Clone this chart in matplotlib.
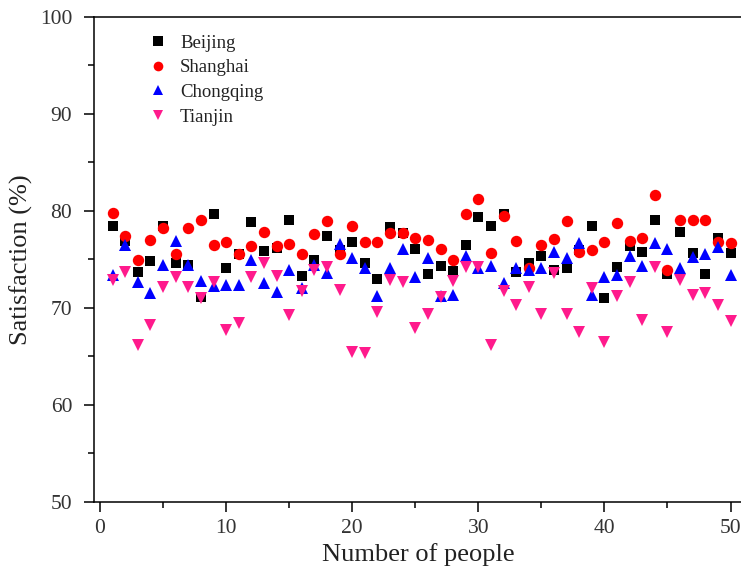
import matplotlib
matplotlib.use("Agg")
import matplotlib.pyplot as plt
import numpy as np
from matplotlib.ticker import MultipleLocator

# <----------------Datos--------------------------------------->
people = np.arange(1, 51)
beijing = [78.4, 76.9, 73.7, 74.8, 78.4, 74.6, 74.4, 71.1, 79.7, 74.1,
           75.5, 78.8, 75.9, 76.2, 79.1, 73.3, 74.9, 77.4, 76.0, 76.8,
           74.6, 73.0, 78.3, 77.7, 76.1, 73.5, 74.3, 73.8, 76.5, 79.4,
           78.4, 79.7, 73.7, 74.6, 75.3, 73.9, 74.1, 76.0, 78.4, 71.0,
           74.2, 76.4, 75.8, 79.1, 73.5, 77.8, 75.7, 73.5, 77.2, 75.7]
shanghai = [79.8, 77.4, 74.9, 77.0, 78.2, 75.6, 78.2, 79.1, 76.5, 76.8,
            75.6, 76.4, 77.8, 76.4, 76.6, 75.6, 77.6, 78.9, 75.6, 78.4,
            76.8, 76.8, 77.7, 77.7, 77.2, 77.0, 76.1, 74.9, 79.7, 81.2,
            75.7, 79.5, 76.9, 74.1, 76.5, 77.1, 79.0, 75.8, 76.0, 76.8,
            78.7, 76.9, 77.2, 81.6, 73.9, 79.1, 79.1, 79.1, 76.8, 76.7]
chongqing = [73.4, 76.5, 72.7, 71.5, 74.4, 76.9, 74.4, 72.8, 72.3, 72.4,
             72.4, 74.9, 72.6, 71.6, 73.9, 72.0, 74.4, 73.6, 76.6, 75.1,
             74.1, 71.2, 74.1, 76.1, 73.2, 75.1, 71.2, 71.3, 75.3, 74.1,
             74.3, 72.6, 74.1, 73.9, 74.1, 75.8, 75.1, 76.7, 71.3, 73.2,
             73.4, 75.3, 74.3, 76.7, 76.1, 74.1, 75.2, 75.6, 76.3, 73.4]
tianjin = [72.9, 73.7, 66.2, 68.2, 72.2, 73.2, 72.2, 71.0, 72.7, 67.7,
           68.4, 73.2, 74.6, 73.3, 69.3, 71.7, 73.9, 74.2, 71.8, 65.5,
           65.4, 69.6, 72.9, 72.7, 67.9, 69.4, 71.1, 72.8, 74.2, 74.2,
           66.2, 71.7, 70.3, 72.2, 69.4, 73.6, 69.4, 67.5, 72.0, 66.5,
           71.2, 72.7, 68.8, 74.2, 67.5, 72.9, 71.3, 71.5, 70.3, 68.6]

# nombre, datos, marcador, color, tamano
series = [("Beijing", beijing, "s", "#000000", 7.7),
          ("Shanghai", shanghai, "o", "#FF0000", 8.2),
          ("Chongqing", chongqing, "^", "#0000FF", 9),
          ("Tianjin", tianjin, "v", "#FF1A8C", 9)]

plt.rcParams["font.family"] = ["Liberation Serif", "DejaVu Serif"]
fig = plt.figure(figsize=(7.41, 5.71), dpi=100)
ax = fig.add_axes([0.1265, 0.1208, 0.8764, 0.850])

for name, vals, mk, col, size in series:
    ax.plot(people, vals, ls="none", marker=mk, color=col, ms=size,
            markeredgewidth=0, label=name)

ax.set_xlim(-0.5, 51)
ax.set_ylim(50, 100)
ax.xaxis.set_major_locator(MultipleLocator(10))
ax.xaxis.set_minor_locator(MultipleLocator(5))
ax.yaxis.set_major_locator(MultipleLocator(10))
ax.yaxis.set_minor_locator(MultipleLocator(5))
ax.tick_params(which="major", direction="out", length=7.5, width=1.1,
               labelsize=15.5, labelcolor="#333333")
ax.tick_params(axis="y", which="major", pad=8)
ax.tick_params(axis="x", which="major", pad=5)
ax.tick_params(which="minor", direction="out", length=4, width=1.1)
for sp in ax.spines.values():
    sp.set_linewidth(1.1)

ax.set_xlabel("Number of people", fontsize=19, labelpad=3, color="#222222")
ax.set_ylabel("Satisfaction (%)", fontsize=19, labelpad=5, color="#222222")

ax.legend(loc="upper left", bbox_to_anchor=(0.055, 0.998), frameon=False,
          fontsize=13.5, handletextpad=0.6, labelspacing=0.4,
          markerscale=0.85, handlelength=1.2, labelcolor="#222222")

plt.savefig("out.png", dpi=100)
